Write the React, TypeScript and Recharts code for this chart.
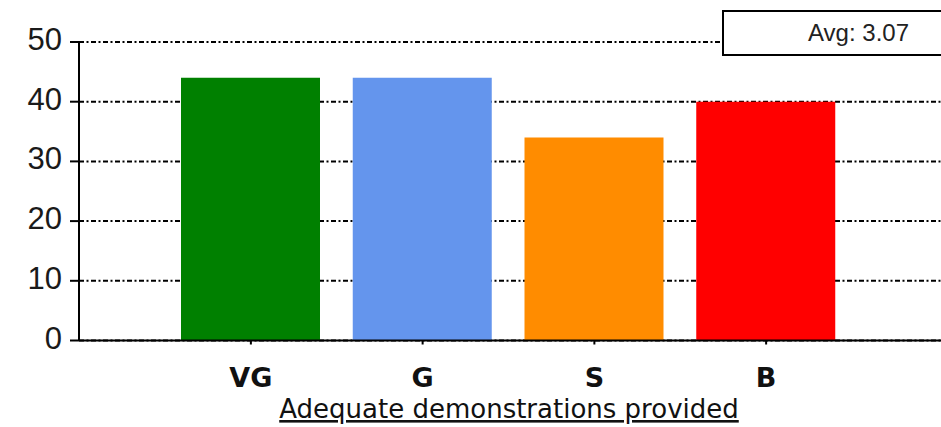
import React from 'react';
import { BarChart, Bar, XAxis, YAxis, CartesianGrid, Cell } from 'recharts';

const categories = ['VG', 'G', 'S', 'B'];
const counts = [44, 44, 34, 40];
const yTicks = [0, 10, 20, 30, 40, 50];
const xTitle = 'Adequate demonstrations provided';
const avgLabel = 'Avg: 3.07';

const barColors = ['#008000', '#6495ED', '#FF8C00', '#FF0000'];

const data = categories.map((name, i) => ({ name, value: counts[i] }));

const YTick = (props: any) => {
  const { x, y, payload } = props;
  return (
    <text x={x} y={y} dy={8} textAnchor="end" fontSize={31} fontFamily="'Liberation Sans', Arial, sans-serif" fill="#1a1a1a">
      {payload.value}
    </text>
  );
};

const XTitle = (props: any) => {
  const vb = props.viewBox || {};
  const cx = (vb.x ?? 0) + (vb.width ?? 0) / 2;
  return (
    <text x={cx - 1} y={418} textAnchor="middle" fontSize={26} fontFamily="'DejaVu Sans', Verdana, sans-serif" fill="#111" textDecoration="underline">
      {xTitle}
    </text>
  );
};

export default function App() {
  return (
    <div style={{ position: 'absolute', left: 0, top: 0, width: 941, height: 427, background: '#fff' }}>
      <BarChart width={941} height={427} data={data} margin={{ top: 42, right: 0, bottom: 0, left: 0 }}>
        <CartesianGrid horizontal vertical={false} stroke="#000" strokeWidth={2} strokeDasharray="5 2.5 2 2.5" />
        <XAxis
          dataKey="name"
          padding={{ left: 86, right: 89 }}
          axisLine={{ stroke: '#000', strokeWidth: 2 }}
          tickLine={{ stroke: '#000', strokeWidth: 2 }}
          tickSize={4}
          tickMargin={23}
          height={86.5}
          tick={{ fontSize: 27, fontWeight: 'bold', fontFamily: "'DejaVu Sans', Verdana, sans-serif", fill: '#111' }}
          label={<XTitle />}
          interval={0}
        />
        <YAxis
          width={79}
          domain={[0, 50]}
          ticks={yTicks}
          interval={0}
          axisLine={{ stroke: '#000', strokeWidth: 2 }}
          tickLine={{ stroke: '#000', strokeWidth: 2 }}
          tickSize={9}
          tickMargin={8}
          tick={<YTick />}
        />
        <Bar dataKey="value" barSize={139} isAnimationActive={false}>
          {data.map((d, i) => (
            <Cell key={d.name} fill={barColors[i]} />
          ))}
        </Bar>
      </BarChart>
      <div
        style={{
          position: 'absolute',
          left: 722,
          top: 10,
          width: 240,
          height: 42,
          border: '2px solid #000',
          background: '#fff',
          boxSizing: 'content-box',
        }}
      >
        <div
          style={{
            position: 'absolute',
            left: 0,
            top: 0,
            width: 185,
            height: 42,
            lineHeight: '42px',
            textAlign: 'right',
            fontSize: 24,
            fontFamily: "'Liberation Sans', Arial, sans-serif",
            color: '#222',
          }}
        >
          {avgLabel}
        </div>
      </div>
    </div>
  );
}
